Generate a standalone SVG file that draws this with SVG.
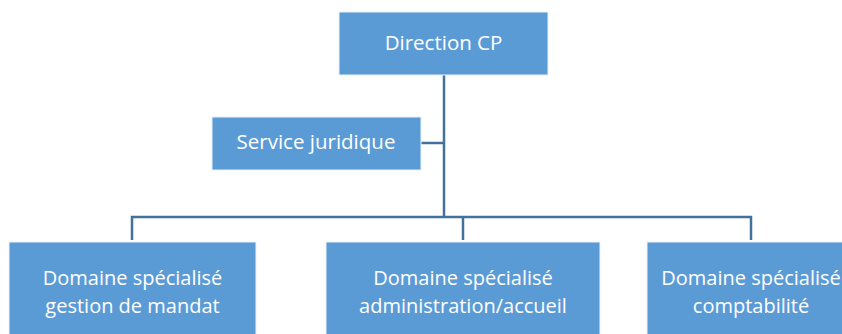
<svg xmlns="http://www.w3.org/2000/svg" width="842" height="334" viewBox="0 0 842 334">
<style>
.box{fill:#5B9BD5;stroke:#EAF1FA;stroke-width:1}
.t{font-family:"Open Sans","Liberation Sans",sans-serif;font-size:20.5px;fill:#FFFFFF;text-anchor:middle}
.t2{font-family:"Open Sans","Liberation Sans",sans-serif;font-size:20px;fill:#FFFFFF;text-anchor:middle}
.c{fill:none;stroke:#41719C;stroke-width:2.5}
</style>
<rect width="842" height="334" fill="#FFFFFF"/>
<g id="connectors">
<path class="c" d="M444 75V218"/>
<path class="c" d="M421 143H444"/>
<path class="c" d="M132 240V217H751V240"/>
<path class="c" d="M463 217V240"/>
</g>
<g id="direction">
<rect class="box" x="339" y="12" width="209" height="63"/>
<text class="t" x="443.5" y="50">Direction CP</text>
</g>
<g id="service">
<rect class="box" x="212" y="117" width="209" height="53"/>
<text class="t" x="316" y="149">Service juridique</text>
</g>
<g id="gestion">
<rect class="box" x="9" y="242" width="247" height="100"/>
<text class="t2" x="132.5" y="285">Domaine spécialisé</text>
<text class="t2" x="132.5" y="313">gestion de mandat</text>
</g>
<g id="admin">
<rect class="box" x="326" y="242" width="274" height="100"/>
<text class="t2" x="463" y="285">Domaine spécialisé</text>
<text class="t2" x="463" y="313">administration/accueil</text>
</g>
<g id="compta">
<rect class="box" x="647" y="242" width="210" height="100"/>
<text class="t2" x="751" y="285">Domaine spécialisé</text>
<text class="t2" x="751" y="313">comptabilité</text>
</g>
</svg>
